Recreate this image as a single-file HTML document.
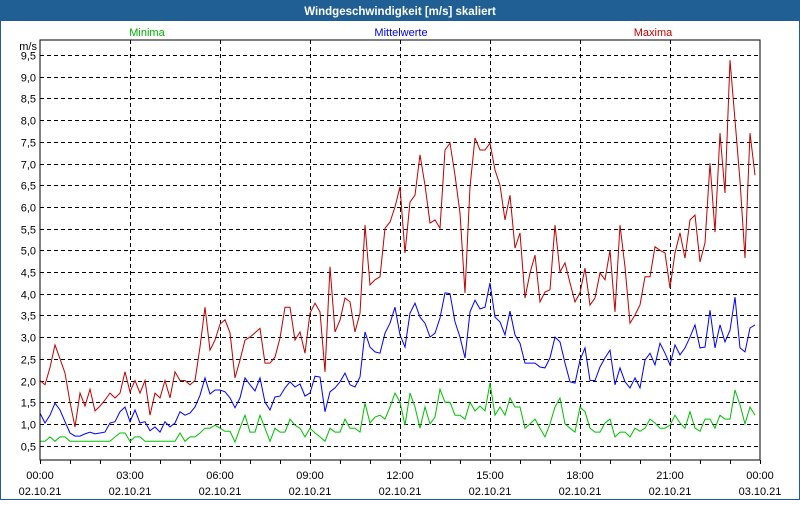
<!DOCTYPE html>
<html><head><meta charset="utf-8"><style>
body{margin:0;width:800px;height:500px;overflow:hidden;background:#fff;font-family:"Liberation Sans",sans-serif}
svg text{font-family:"Liberation Sans",sans-serif}
</style></head><body>
<svg id="chart" width="800" height="500" xmlns="http://www.w3.org/2000/svg">
<rect x="0.5" y="0.5" width="799" height="499" fill="#fff" stroke="#1f5f94" stroke-width="1"/>
<rect x="0" y="0" width="800" height="21" fill="#1f5f94"/>
<text x="400" y="15" fill="#fff" font-size="11.5" font-weight="bold" text-anchor="middle">Windgeschwindigkeit [m/s] skaliert</text>
<text x="147" y="36" fill="#00b000" font-size="11" text-anchor="middle">Minima</text>
<text x="401" y="36" fill="#0000e0" font-size="11" text-anchor="middle">Mittelwerte</text>
<text x="653" y="36" fill="#c00000" font-size="11" text-anchor="middle">Maxima</text>
<text x="37" y="50" fill="#000" font-size="11" text-anchor="end">m/s</text>
<g id="grid"></g><g id="series"></g>
<rect x="40" y="40" width="720" height="420" fill="none" stroke="#000" stroke-width="1"/>
</svg>
<script>
const yTicks=[0.5,1.0,1.5,2.0,2.5,3.0,3.5,4.0,4.5,5.0,5.5,6.0,6.5,7.0,7.5,8.0,8.5,9.0,9.5];
const xTimes=["00:00","03:00","06:00","09:00","12:00","15:00","18:00","21:00","00:00"];
const xDates=["02.10.21","02.10.21","02.10.21","02.10.21","02.10.21","02.10.21","02.10.21","02.10.21","03.10.21"];
const maxima=[2.0,1.9,2.3,2.82,2.5,2.17,1.5,0.93,1.71,1.41,1.8,1.3,1.41,1.55,1.71,1.6,1.71,2.2,1.74,2.0,1.71,2.0,1.2,1.71,1.6,2.0,1.6,2.2,2.0,2.0,1.9,2.0,2.77,3.69,2.7,2.93,3.3,3.4,3.1,2.06,2.47,2.93,3.0,3.1,3.2,2.4,2.4,2.54,2.98,3.69,3.69,2.93,3.12,2.63,3.55,3.78,3.58,2.2,4.62,3.12,3.39,3.9,3.81,3.12,3.55,5.58,4.2,4.32,4.39,5.51,5.65,6.0,6.46,4.94,6.11,6.27,7.2,6.5,5.63,5.7,5.51,7.31,7.47,6.73,5.86,4.02,6.46,7.59,7.31,7.31,7.47,6.85,6.5,5.7,6.27,5.05,5.4,3.9,4.48,4.89,3.81,4.04,4.09,5.58,4.5,4.71,4.25,3.81,4.02,4.59,3.74,3.9,4.48,4.32,5.0,3.58,5.58,4.62,3.32,3.51,3.74,4.39,4.39,5.08,5.0,4.94,4.13,4.94,5.4,4.82,5.7,5.81,4.73,5.17,7.01,5.42,7.7,6.32,9.38,8.0,6.6,4.82,7.7,6.73];
const mittel=[1.25,1.02,1.2,1.48,1.32,1.05,0.79,0.72,0.72,0.77,0.81,0.77,0.79,0.81,1.02,1.05,1.28,1.39,1.05,1.32,1.02,1.05,0.84,0.93,0.81,1.05,0.93,1.02,1.28,1.2,1.25,1.39,1.66,2.06,1.69,1.78,1.78,1.74,1.6,1.37,1.6,2.06,1.9,1.76,2.06,1.5,1.32,1.62,1.64,1.83,1.97,1.85,1.92,1.64,1.71,2.1,2.08,1.28,1.74,1.83,1.97,2.17,1.9,1.85,2.08,3.12,2.77,2.66,2.63,3.09,3.32,3.69,3.05,2.77,3.55,3.78,3.46,3.32,3.0,3.09,3.44,4.02,4.0,3.35,3.0,2.52,3.58,3.85,3.65,3.69,4.25,3.46,3.35,3.05,3.6,3.05,2.86,2.4,2.4,2.4,2.31,2.29,2.52,3.0,2.89,2.4,1.97,1.94,2.47,2.75,2.0,2.0,2.31,2.52,2.7,1.9,2.29,1.97,1.83,2.06,1.83,2.47,2.63,2.36,2.86,2.63,2.36,2.82,2.59,2.75,3.0,3.28,2.75,2.77,3.62,2.75,3.28,2.89,3.16,3.92,2.75,2.66,3.21,3.28];
const minima=[0.6,0.6,0.7,0.6,0.7,0.7,0.6,0.6,0.6,0.6,0.6,0.6,0.6,0.6,0.6,0.7,0.79,0.79,0.6,0.7,0.7,0.6,0.6,0.6,0.6,0.6,0.6,0.6,0.79,0.6,0.7,0.7,0.79,0.9,0.9,0.97,0.9,0.83,0.83,0.58,0.9,1.2,0.81,0.81,1.2,0.9,0.6,0.9,0.81,0.81,1.11,0.97,0.9,0.7,0.9,0.79,0.7,0.6,0.9,0.81,0.81,1.11,0.9,0.9,0.81,1.48,1.02,1.16,1.2,1.11,1.39,1.71,1.5,0.97,1.71,1.39,0.9,1.39,1.0,1.16,1.8,1.5,1.5,1.2,1.2,1.11,1.5,1.3,1.41,1.3,1.94,1.2,1.39,1.2,1.6,1.39,1.39,0.9,1.0,1.11,0.9,0.7,1.0,1.39,1.6,1.0,0.9,0.81,1.39,1.28,0.9,0.81,0.81,1.02,1.11,0.7,0.81,0.81,0.7,0.9,0.83,0.9,1.11,1.02,0.9,0.9,0.97,1.2,1.02,0.9,1.28,0.9,0.83,1.11,1.11,0.9,1.2,1.11,1.11,1.78,1.44,1.0,1.39,1.2];

const NS="http://www.w3.org/2000/svg";
const yScale=v=>55+(9.5-v)*43.4;
const xScale=i=>40+i*5;
const xHour=h=>40+h*30;
const grid=document.getElementById('grid');
const series=document.getElementById('series');
function mk(tag,attrs,parent){const e=document.createElementNS(NS,tag);for(const k in attrs)e.setAttribute(k,attrs[k]);parent.appendChild(e);return e;}

yTicks.forEach(v=>{
  const y=Math.round(yScale(v))+0.5;
  const l=mk('line',{x1:40,x2:760,y1:y,y2:y,stroke:'#000','stroke-dasharray':'4,3','stroke-width':1},grid);
  
  
  const t=mk('text',{x:36,y:y+4,'font-size':11,'text-anchor':'end',fill:'#000'},grid);
  t.textContent=v.toFixed(1).replace('.',',');
  
  
});
for(let h=0;h<=24;h++){
  const x=xHour(h)+0.5;
  const tk=mk('line',{x1:x,x2:x,y1:460,y2:464,stroke:'#000'},grid);
  
  
  if(h%3===0&&h>0&&h<24){
    const g=mk('line',{x1:x,x2:x,y1:40,y2:460,stroke:'#000','stroke-dasharray':'4,3'},grid);
    
    
  }
}
xTimes.forEach((s,k)=>{
  const x=xHour(k*3);
  const t=mk('text',{x:x,y:479,'font-size':11,'text-anchor':'middle',fill:'#000'},grid);
  t.textContent=s;
  
  
  const d=mk('text',{x:x,y:495,'font-size':11,'text-anchor':'middle',fill:'#000'},grid);
  d.textContent=xDates[k];
  
  
});
function line(data,color,name){
  const pts=data.map((v,i)=>xScale(i)+','+yScale(v).toFixed(1)).join(' ');
  const p=mk('polyline',{points:pts,fill:'none',stroke:color,'stroke-width':1},series);
  
  
}
line(minima,'#00c000','minima-line');
line(mittel,'#0000ff','mittelwerte-line');
line(maxima,'#c00000','maxima-line');
</script>
</body></html>
